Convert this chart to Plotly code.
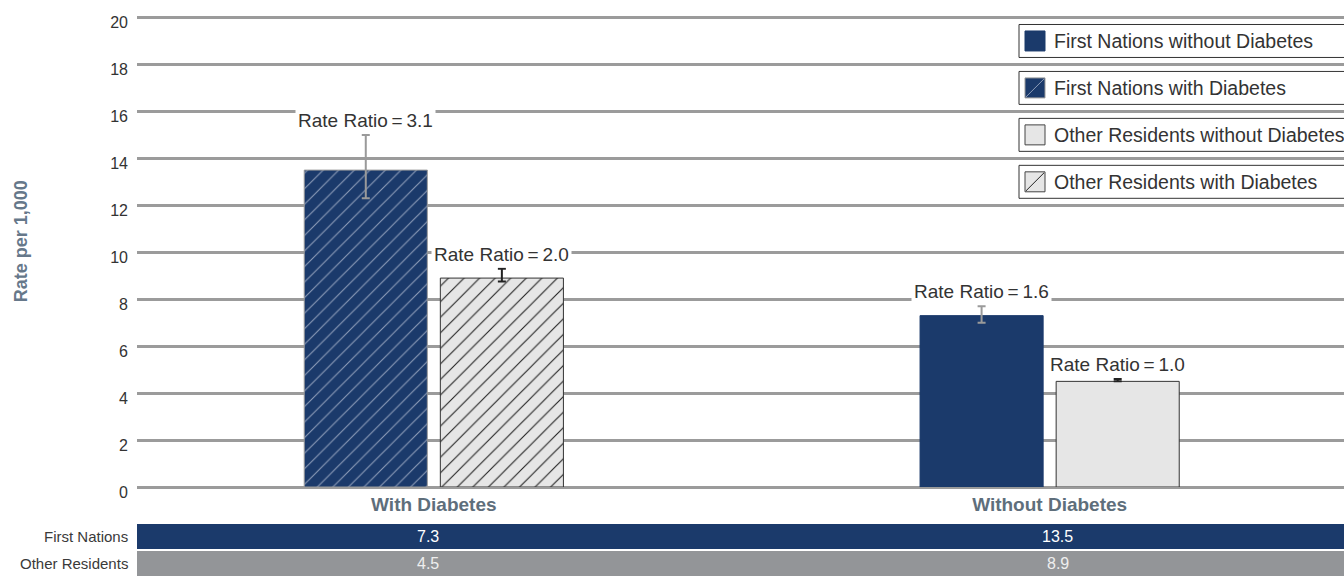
import plotly.graph_objects as go

# ---------------- data ----------------
groups = ["With Diabetes", "Without Diabetes"]
fn_rates = [13.5, 7.3]          # First Nations (with, without diabetes)
or_rates = [8.9, 4.5]           # Other Residents (with, without diabetes)
fn_ci_hi = [15.0, 7.7]
fn_ci_lo = [12.3, 7.0]
or_ci_hi = [9.3, 4.6]
or_ci_lo = [8.75, 4.5]
fn_ratio = ["3.1", "1.6"]
or_ratio = ["2.0", "1.0"]
table_rows = ["First Nations", "Other Residents"]
table_fn = ["7.3", "13.5"]
table_or = ["4.5", "8.9"]
legend_names = ["First Nations without Diabetes", "First Nations with Diabetes",
                "Other Residents without Diabetes", "Other Residents with Diabetes"]
y_ticks = list(range(0, 21, 2))

# ---------------- style ----------------
W, H = 1344, 576
ML, MR, MT, MB = 137, 0, 13.5, 89
Y_TOP = 20.15
NAVY = "#1b3a6b"
LGRAY = "#e6e6e6"
GRID = "#9b9b9b"
FONT = "Liberation Sans, Arial, sans-serif"
BARGAP = 0.558
GROUPGAP = 0.0956

PW = W - ML - MR
PH = H - MT - MB


def px_x(px):
    return (px - ML) / PW


def px_y(py):
    return (H - MB - py) / PH


fig = go.Figure()

fig.add_trace(go.Bar(
    x=groups, y=fn_rates, name="First Nations", showlegend=False,
    marker=dict(color=NAVY,
                line=dict(color=["#9a9a9a", NAVY], width=1),
                pattern=dict(shape=["/", ""], fgcolor="#8d9cb8", bgcolor=NAVY,
                             size=11, solidity=0.1, fillmode="replace")),
    error_y=dict(type="data", symmetric=False,
                 array=[h - v for h, v in zip(fn_ci_hi, fn_rates)],
                 arrayminus=[v - l for l, v in zip(fn_ci_lo, fn_rates)],
                 color="#9a9a9a", thickness=2, width=4),
    hoverinfo="skip",
))
fig.add_trace(go.Bar(
    x=groups, y=or_rates, name="Other Residents", showlegend=False,
    marker=dict(color=LGRAY,
                line=dict(color="#333333", width=1),
                pattern=dict(shape=["/", ""], fgcolor="#222222", bgcolor=LGRAY,
                             size=11, solidity=0.1, fillmode="replace")),
    error_y=dict(type="data", symmetric=False,
                 array=[h - v for h, v in zip(or_ci_hi, or_rates)],
                 arrayminus=[v - l for l, v in zip(or_ci_lo, or_rates)],
                 color="#222222", thickness=2, width=4),
    hoverinfo="skip",
))

annotations = []
shapes = []

# Rate ratio labels above error bars
slot = (1 - BARGAP) / 2
for i, g in enumerate(groups):
    for off, hi, rr in ((-slot / 2, fn_ci_hi[i], fn_ratio[i]), (slot / 2, or_ci_hi[i], or_ratio[i])):
        annotations.append(dict(
            x=i + off, y=hi, xref="x", yref="y", xanchor="center", yanchor="bottom",
            text=f"Rate Ratio\u2009=\u2009{rr}", showarrow=False, yshift=1,
            font=dict(family=FONT, size=19, color="#333333"),
            bgcolor="white", borderpad=2))

# Table rows under the chart
row_tops = [524, 551]
row_h = 25
row_colors = [NAVY, "#939598"]
row_text_colors = ["white", "#eeeeee"]
row_vals = [table_fn, table_or]
x_shifts = [-6, 8]
for r, name in enumerate(table_rows):
    y0 = row_tops[r]
    shapes.append(dict(type="rect", xref="paper", yref="paper",
                       x0=0, x1=1, y0=px_y(y0 + row_h), y1=px_y(y0),
                       fillcolor=row_colors[r], line=dict(width=0), layer="above"))
    annotations.append(dict(x=px_x(130), y=px_y(y0 + row_h / 2), xref="paper", yref="paper",
                            xanchor="right", yanchor="middle", text=name, showarrow=False,
                            font=dict(family=FONT, size=15, color="#3a3a3a")))
    for i, g in enumerate(groups):
        annotations.append(dict(x=i, y=px_y(y0 + row_h / 2), xref="x", yref="paper",
                                xanchor="center", yanchor="middle", text=row_vals[r][i],
                                showarrow=False, xshift=x_shifts[i],
                                font=dict(family=FONT, size=16, color=row_text_colors[r])))

# Y axis title
annotations.append(dict(x=px_x(21), y=px_y(241), xref="paper", yref="paper",
                        xanchor="center", yanchor="middle", textangle=-90,
                        text="<b>Rate per 1,000</b>", showarrow=False,
                        font=dict(family=FONT, size=18, color="#66788a")))

# Manual legend: boxed entries
box_tops = [24, 71, 118, 165]
box_h = 33
sw_fill = [NAVY, NAVY, LGRAY, LGRAY]
sw_line = [NAVY, "#9a9a9a", "#444444", "#444444"]
sw_diag = [None, "#8d9cb8", None, "#222222"]
for k, name in enumerate(legend_names):
    t = box_tops[k]
    shapes.append(dict(type="rect", xref="paper", yref="paper",
                       x0=px_x(1019), x1=px_x(1360), y0=px_y(t + box_h), y1=px_y(t),
                       fillcolor="white", line=dict(color="#333333", width=1), layer="above"))
    cy = t + box_h / 2
    shapes.append(dict(type="rect", xref="paper", yref="paper",
                       x0=px_x(1025), x1=px_x(1045), y0=px_y(cy + 10), y1=px_y(cy - 10),
                       fillcolor=sw_fill[k], line=dict(color=sw_line[k], width=1), layer="above"))
    if sw_diag[k]:
        shapes.append(dict(type="line", xref="paper", yref="paper",
                           x0=px_x(1026), x1=px_x(1044), y0=px_y(cy + 9), y1=px_y(cy - 9),
                           line=dict(color=sw_diag[k], width=1), layer="above"))
    annotations.append(dict(x=px_x(1052), y=px_y(cy), xref="paper", yref="paper",
                            xanchor="left", yanchor="middle", text=name, showarrow=False,
                            font=dict(family=FONT, size=19.5, color="#333333")))

fig.update_layout(
    width=W, height=H,
    margin=dict(l=ML, r=MR, t=MT, b=MB, pad=0),
    paper_bgcolor="white", plot_bgcolor="white",
    barmode="group", bargap=BARGAP, bargroupgap=GROUPGAP,
    showlegend=False,
    font=dict(family=FONT, color="#333333"),
    xaxis=dict(range=[-0.482, 1.478], showgrid=False, showline=False, zeroline=False,
               ticks="", tickfont=dict(family=FONT, size=19, color="#5e6e7b", weight="bold"),
               ticklabelstandoff=4),
    yaxis=dict(range=[0, Y_TOP], tickvals=y_ticks, showgrid=True, gridcolor=GRID, gridwidth=2.5,
               zeroline=True, zerolinecolor=GRID, zerolinewidth=2.5, showline=False,
               ticks="", tickfont=dict(family=FONT, size=16, color="#333333"),
               ticklabelstandoff=8, ticklabelshift=5),
    annotations=annotations,
    shapes=shapes,
)

fig.write_html("out.html", config={"displayModeBar": False},
               post_script="document.body.style.margin='0';document.body.style.overflow='hidden';")
